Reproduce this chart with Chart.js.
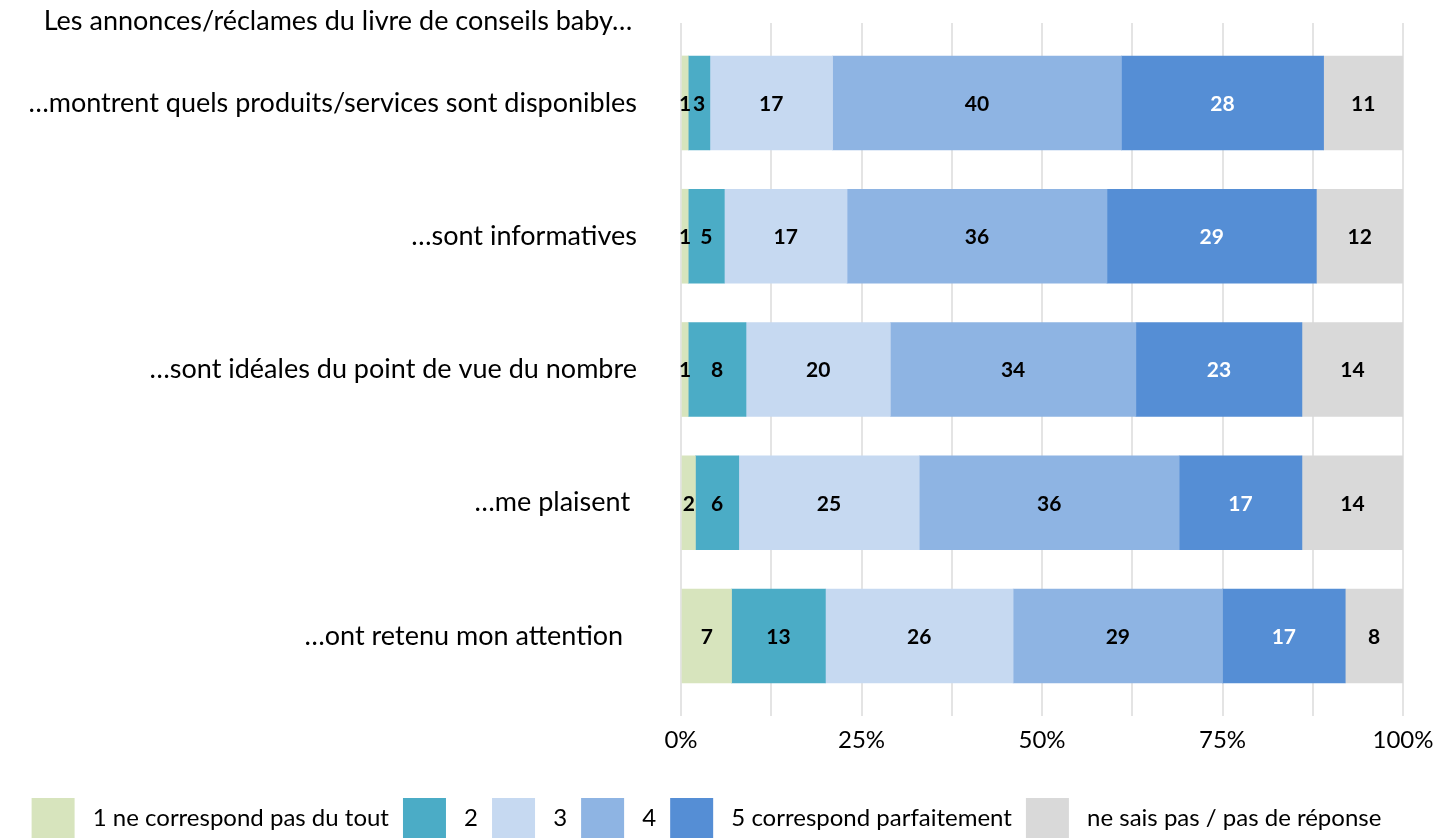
<!DOCTYPE html>
<html>
<head>
<meta charset="utf-8">
<script src="https://cdn.jsdelivr.net/npm/chart.js@4/dist/chart.umd.min.js"></script>
<style>
  html, body { margin: 0; padding: 0; background: #fff; overflow: hidden; }
  #wrap { width: 1447px; height: 848px; position: relative; }
</style>
</head>
<body>
<div id="wrap"><canvas id="myChart"></canvas></div>
<script>
const title = 'Les annonces/réclames du livre de conseils baby…';
const categories = [
    '…montrent quels produits/services sont disponibles',
    '…sont informatives',
    '…sont idéales du point de vue du nombre',
    '…me plaisent ',
    '…ont retenu mon attention  '
];
const seriesNames = [
    '1 ne correspond pas du tout',
    '2',
    '3',
    '4',
    '5 correspond parfaitement',
    'ne sais pas / pas de réponse'
];
const s1 = [1, 1, 1, 2, 7];
const s2 = [3, 5, 8, 6, 13];
const s3 = [17, 17, 20, 25, 26];
const s4 = [40, 36, 34, 36, 29];
const s5 = [28, 29, 23, 17, 17];
const s6 = [11, 12, 14, 14, 8];
const xTicks = [0, 25, 50, 75, 100];

const colors = ['#D7E4BD', '#4BACC6', '#C6D9F1', '#8EB4E3', '#558ED5', '#D9D9D9'];
const labelColors = ['#000', '#000', '#000', '#000', '#fff', '#000'];
const FONT = 'Lato, "Open Sans", sans-serif';

const allSeries = [s1, s2, s3, s4, s5, s6];
const datasets = allSeries.map((vals, k) => ({
    label: seriesNames[k],
    data: vals.map((v, i) => ({ x: v, y: i })),
    backgroundColor: colors[k],
    borderWidth: 0,
    barThickness: 94
}));

// value in the middle of each segment
const barLabels = {
    id: 'barLabels',
    afterDatasetsDraw(chart) {
        const ctx = chart.ctx;
        ctx.save();
        ctx.font = 'bold 21px ' + FONT;
        ctx.textAlign = 'center';
        ctx.textBaseline = 'middle';
        chart.data.datasets.forEach((ds, k) => {
            const meta = chart.getDatasetMeta(k);
            meta.data.forEach((el, i) => {
                ctx.fillStyle = labelColors[k];
                ctx.fillText(String(allSeries[k][i]), (el.x + el.base) / 2, el.y + 1);
            });
        });
        ctx.restore();
    }
};

const topTitle = {
    id: 'topTitle',
    afterDraw(chart) {
        const ctx = chart.ctx;
        ctx.save();
        ctx.font = '27px ' + FONT;
        ctx.fillStyle = '#000';
        ctx.textAlign = 'center';
        ctx.textBaseline = 'middle';
        ctx.fillText(title, 338, 21);
        ctx.restore();
    }
};

const ctx = document.getElementById('myChart');
new Chart(ctx, {
    type: 'bar',
    data: { datasets: datasets },
    plugins: [barLabels, topTitle],
    options: {
        indexAxis: 'y',
        responsive: true,
        maintainAspectRatio: false,
        animation: false,
        layout: { padding: { top: 23, left: 10, right: 44, bottom: 0 } },
        scales: {
            x: {
                type: 'linear',
                stacked: true,
                min: 0,
                max: 100,
                ticks: {
                    stepSize: 12.5,
                    padding: 10,
                    color: '#000',
                    font: { family: FONT, size: 24 },
                    callback: v => xTicks.includes(v) ? v + '%' : ''
                },
                grid: { color: '#E4E4E4', lineWidth: 2, drawTicks: false },
                border: { display: false },
                afterFit: s => { s.height = 68; }
            },
            y: {
                type: 'linear',
                stacked: true,
                reverse: true,
                offset: false,
                min: -0.6,
                max: 4.6,
                afterBuildTicks: s => {
                    s.ticks = categories.map((c, i) => ({ value: i }));
                },
                ticks: {
                    padding: 44,
                    color: '#000',
                    font: { family: FONT, size: 27 },
                    callback: v => categories[v] || ''
                },
                grid: { display: false, drawTicks: false },
                border: { display: false },
                afterFit: s => {
                    s.width = 671;
                    s.paddingTop = 0;
                    s.paddingBottom = 0;
                }
            }
        },
        plugins: {
            legend: {
                position: 'bottom',
                labels: {
                    boxWidth: 43,
                    boxHeight: 40,
                    padding: 14,
                    color: '#000',
                    font: { family: FONT, size: 24 },
                    generateLabels: chart => chart.data.datasets.map((ds, k) => ({
                        text: ' ' + ds.label,
                        fillStyle: colors[k],
                        strokeStyle: colors[k],
                        lineWidth: 0,
                        hidden: false,
                        datasetIndex: k,
                        fontColor: '#000'
                    }))
                }
            },
            tooltip: { enabled: false }
        }
    }
});
</script>
</body>
</html>
